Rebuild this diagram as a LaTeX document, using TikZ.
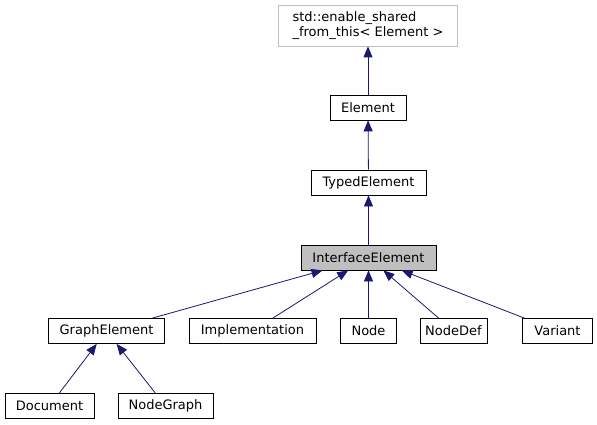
\documentclass[tikz,border=0pt]{standalone}
\usepackage{fontspec}
\setmainfont{DejaVu Sans}
\usetikzlibrary{arrows.meta,positioning}
\definecolor{edgeblue}{RGB}{25,25,112}
\definecolor{boxgray}{RGB}{191,191,191}

\begin{document}
\begin{tikzpicture}[x=1pt,y=-1pt,>={Triangle[length=11pt,width=9pt]},every node/.style={font=\fontsize{13}{15.5}\selectfont}]
\tikzstyle{cls}=[draw=black,line width=0.8pt,fill=white,minimum height=25pt,inner sep=0]
\tikzstyle{ext}=[draw=boxgray,line width=0.8pt,minimum height=41pt,minimum width=179pt,inner sep=0,align=left]
\tikzstyle{inh}=[<-,draw=edgeblue,line width=0.8pt]
\useasboundingbox (0,0) rectangle (597,425);
\node[ext] (std) at (368,25.5) {std::enable\_shared\\\_from\_this< Element >};
\node[cls,minimum width=76pt] (el) at (368,107.5) {Element};
\node[cls,minimum width=115pt] (te) at (368.5,182.5) {TypedElement};
\node[cls,minimum width=135pt,fill=boxgray] (ie) at (368.5,257.5) {InterfaceElement};
\node[cls,minimum width=116pt] (ge) at (106.5,331) {GraphElement};
\node[cls,minimum width=127pt] (impl) at (252.5,331) {Implementation};
\node[cls,minimum width=56pt] (nd) at (368.5,331) {Node};
\node[cls,minimum width=67pt] (ndef) at (453.5,331) {NodeDef};
\node[cls,minimum width=70pt] (var) at (557.5,331) {Variant};
\node[cls,minimum width=89pt] (doc) at (49.5,406) {Document};
\node[cls,minimum width=95pt] (ngr) at (165.5,406) {NodeGraph};
\draw[inh] (std) -- (el);
\draw[inh] (el) -- (te);
\draw[inh] (te) -- (ie);
\draw[inh] (ie) -- (ge);
\draw[inh] (ie) -- (impl);
\draw[inh] (ie) -- (nd);
\draw[inh] (ie) -- (ndef);
\draw[inh] (ie) -- (var);
\draw[inh] (ge) -- (doc);
\draw[inh] (ge) -- (ngr);
\end{tikzpicture}
\end{document}
